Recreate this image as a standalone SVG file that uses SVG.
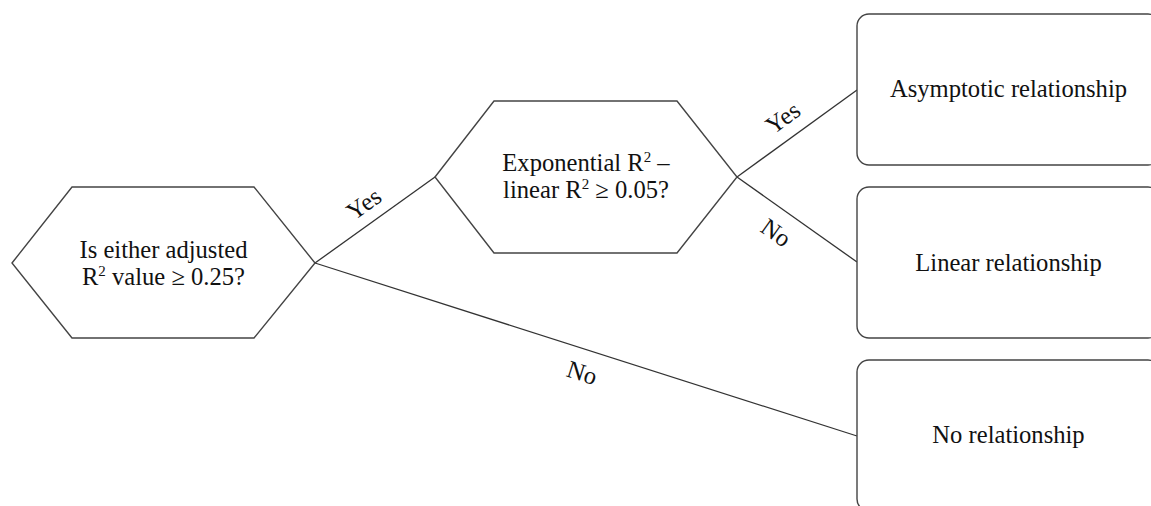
<svg xmlns="http://www.w3.org/2000/svg" width="1151" height="506" viewBox="0 0 1151 506">
<style>
.shape{fill:#fff;stroke:#444;stroke-width:1.4}
.conn line{stroke:#333;stroke-width:1.3}
text{font-family:"Liberation Serif","Times New Roman",serif;font-size:24.6px;fill:#111;text-anchor:middle}
.sup{font-size:15px}
</style>
<rect width="1151" height="506" fill="#fff"/>
<g id="connectors" class="conn">
<line x1="315" y1="263" x2="435" y2="177"/>
<line x1="737" y1="177" x2="857" y2="90"/>
<line x1="737" y1="177" x2="857" y2="262"/>
<line x1="315" y1="263" x2="857" y2="436"/>
</g>
<g id="labels">
<text transform="translate(364,204) rotate(-35.6)" y="8">Yes</text>
<text transform="translate(783,118) rotate(-36)" y="8">Yes</text>
<text transform="translate(776,233) rotate(35.3)" y="8">No</text>
<text transform="translate(582,373) rotate(17.7)" y="8">No</text>
</g>
<g id="q1">
<polygon class="shape" points="12,263 72,187 254,187 315,263 254,338 72,338"/>
<text x="163.5" y="258">Is either adjusted</text>
<text x="163.5" y="285">R<tspan class="sup" dy="-9">2</tspan><tspan dy="9"> value ≥ 0.25?</tspan></text>
</g>
<g id="q2">
<polygon class="shape" points="435,177 494,101 677,101 737,177 677,253 494,253"/>
<text x="586" y="171">Exponential R<tspan class="sup" dy="-9">2</tspan><tspan dy="9"> –</tspan></text>
<text x="586" y="198">linear R<tspan class="sup" dy="-9">2</tspan><tspan dy="9"> ≥ 0.05?</tspan></text>
</g>
<g id="r1">
<rect class="shape" x="857" y="14" width="303" height="151" rx="12"/>
<text x="1008.5" y="97">Asymptotic relationship</text>
</g>
<g id="r2">
<rect class="shape" x="857" y="187" width="303" height="151" rx="12"/>
<text x="1008.5" y="271">Linear relationship</text>
</g>
<g id="r3">
<rect class="shape" x="857" y="360" width="303" height="151" rx="12"/>
<text x="1008.5" y="443">No relationship</text>
</g>
</svg>
